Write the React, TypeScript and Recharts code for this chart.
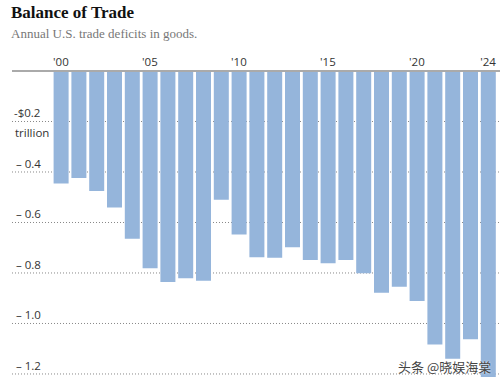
import { BarChart, Bar, XAxis, YAxis, CartesianGrid } from "recharts";

const YEARS = [
  "2000", "2001", "2002", "2003", "2004", "2005", "2006", "2007", "2008",
  "2009", "2010", "2011", "2012", "2013", "2014", "2015", "2016", "2017",
  "2018", "2019", "2020", "2021", "2022", "2023", "2024",
];

// goods trade balance, trillions of dollars
const DEFICITS = [
  -0.446, -0.424, -0.475, -0.541, -0.664, -0.781, -0.836, -0.821, -0.831,
  -0.51, -0.648, -0.738, -0.74, -0.698, -0.749, -0.761, -0.749, -0.801,
  -0.878, -0.855, -0.911, -1.083, -1.14, -1.062, -1.212,
];

const X_TICK_LABELS: Record<string, string> = {
  "2000": "'00",
  "2005": "'05",
  "2010": "'10",
  "2015": "'15",
  "2020": "'20",
  "2024": "'24",
};

const Y_TICKS = [-1.2, -1.0, -0.8, -0.6, -0.4, -0.2];

const data = YEARS.map((year, i) => ({ year, value: DEFICITS[i] }));

const labelFont = "'Open Sans', 'Noto Sans', sans-serif";

function YTick(props: any) {
  const { y, payload } = props;
  const v = Number(payload.value);
  if (Math.abs(v + 0.2) < 1e-6) {
    return (
      <g>
        <text x={14} y={y - 4} fontSize={11.5} fill="#333" fontFamily={labelFont}>
          -$0.2
        </text>
        <text x={15} y={y + 16} fontSize={11.5} fill="#333" fontFamily={labelFont}>
          trillion
        </text>
      </g>
    );
  }
  return (
    <text x={16} y={y - 4} fontSize={11.5} fill="#333" fontFamily={labelFont}>
      {"– " + Math.abs(v).toFixed(1)}
    </text>
  );
}

function XTick({ x, payload }: any) {
  const label = X_TICK_LABELS[payload.value];
  if (!label) return null;
  return (
    <text x={x} y={66} textAnchor="middle" fontSize={11.5} fill="#333" fontFamily={labelFont}>
      {label}
    </text>
  );
}

export default function App() {
  return (
    <div style={{ position: "absolute", left: 0, top: 0, width: 500, height: 383, background: "#fff" }}>
      <div
        style={{
          position: "absolute",
          left: 11,
          top: 3,
          fontFamily: "'Liberation Serif', serif",
          fontWeight: 700,
          fontSize: 17,
          color: "#111",
        }}
      >
        Balance of Trade
      </div>
      <div
        style={{
          position: "absolute",
          left: 11,
          top: 26,
          fontFamily: "'Liberation Serif', serif",
          fontSize: 13,
          color: "#777",
        }}
      >
        Annual U.S. trade deficits in goods.
      </div>
      <BarChart
        width={500}
        height={383}
        data={data}
        margin={{ top: 41, right: 0, bottom: 6, left: 12 }}
        barCategoryGap="9%"
      >
        <CartesianGrid
          horizontal
          vertical={false}
          stroke="#888"
          strokeDasharray="1 2"
          horizontalValues={Y_TICKS}
        />
        <XAxis
          dataKey="year"
          orientation="top"
          height={30}
          interval={0}
          padding={{ left: 40, right: 3 }}
          tickLine={false}
          axisLine={{ stroke: "#aaa", strokeWidth: 2 }}
          tick={<XTick />}
        />
        <YAxis
          type="number"
          domain={[-1.2, 0]}
          ticks={Y_TICKS}
          width={40}
          mirror
          interval={0}
          axisLine={false}
          tickLine={false}
          tick={<YTick />}
        />
        <Bar dataKey="value" fill="#95b5db" isAnimationActive={false} />
      </BarChart>
      <div
        style={{
          position: "absolute",
          left: 398,
          top: 357,
          fontFamily: "'Noto Sans CJK SC', sans-serif",
          fontSize: 13,
          color: "#444",
          textShadow: "0 0 2px #fff",
        }}
      >
        头条 @晓娱海棠
      </div>
    </div>
  );
}
